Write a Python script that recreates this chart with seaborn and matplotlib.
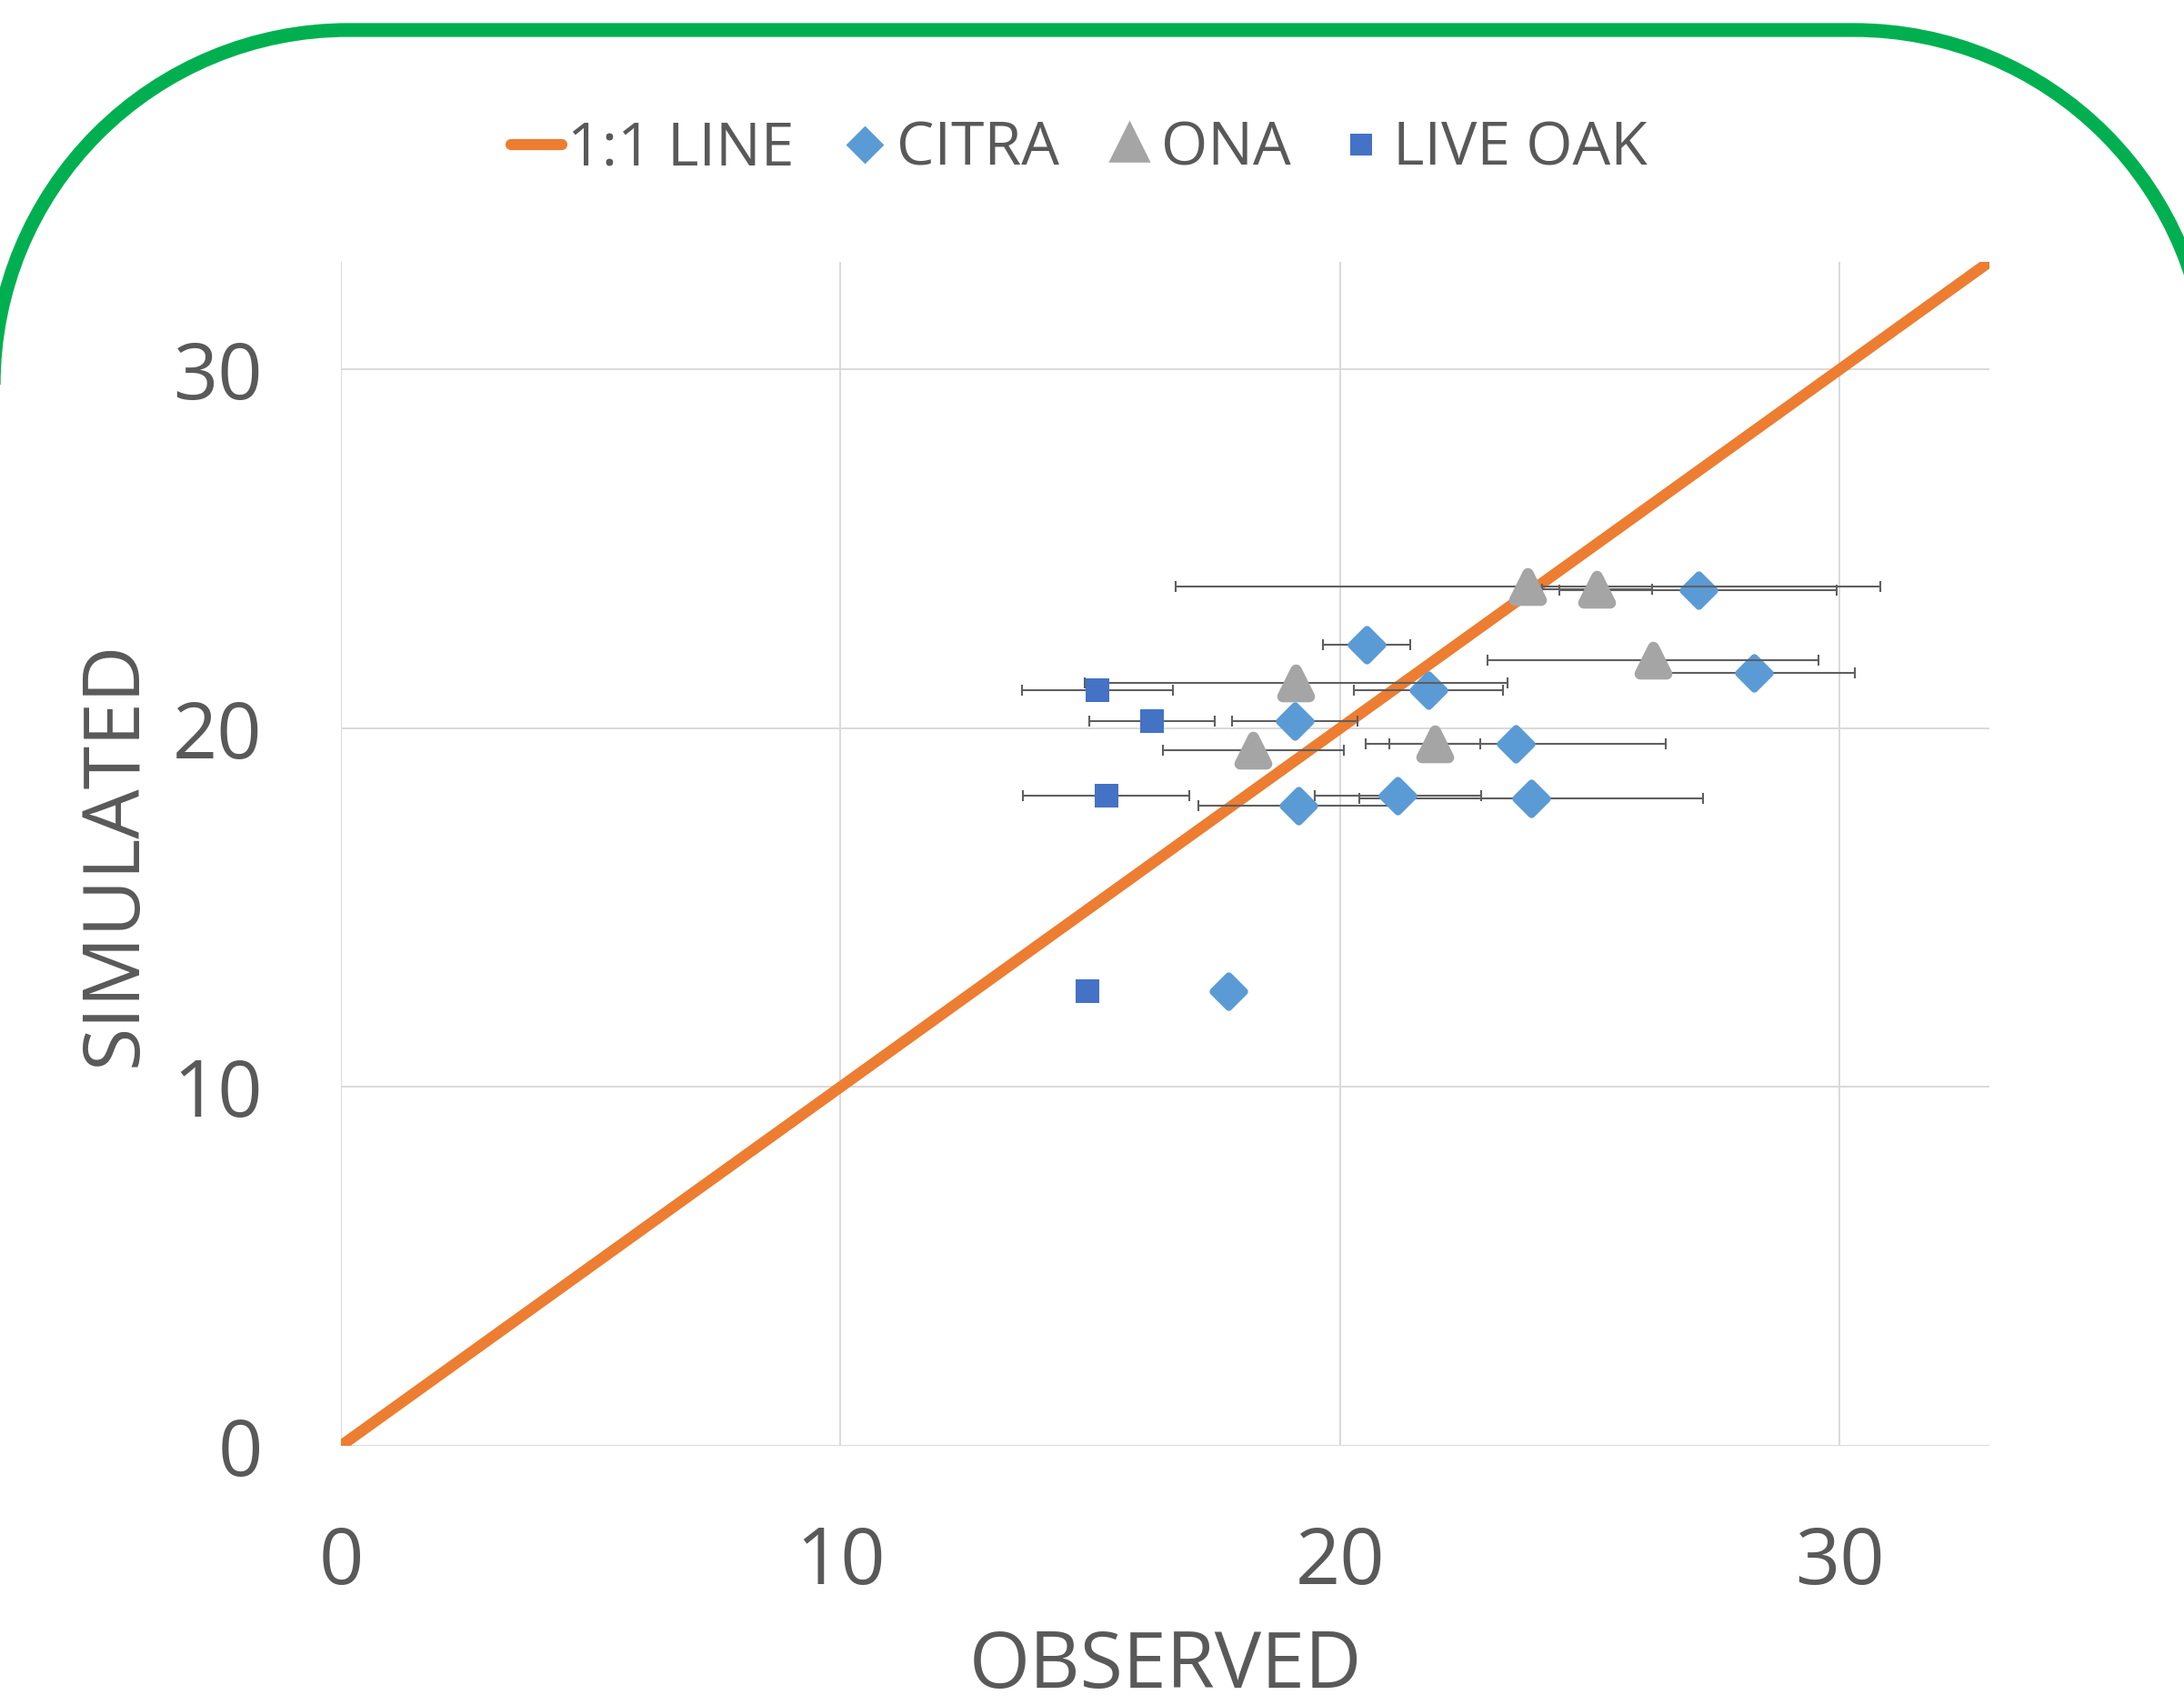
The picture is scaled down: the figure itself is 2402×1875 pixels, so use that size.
import matplotlib
matplotlib.use("Agg")
import matplotlib.pyplot as plt
from matplotlib.lines import Line2D
from matplotlib.path import Path
from matplotlib.patches import PathPatch
from matplotlib.transforms import Affine2D
import numpy as np
import pandas as pd
import seaborn as sns

# 1:1 reference line
line_x = [0, 33]
line_y = [0, 33]

# CITRA: observed, simulated, horizontal error (+/-)
citra_obs = [27.17, 20.53, 28.28, 21.77, 19.09, 23.52, 19.17, 21.16, 23.82, 17.77]
citra_sim = [23.84, 22.32, 21.55, 21.07, 20.19, 19.57, 17.84, 18.11, 18.05, 12.68]
citra_err = [2.77, 0.88, 2.02, 1.49, 1.26, 3.00, 2.00, 1.66, 3.44, 0.0]

# ONA
ona_obs = [23.76, 25.14, 26.27, 19.12, 18.26, 21.89]
ona_sim = [23.95, 23.88, 21.89, 21.26, 19.38, 19.57]
ona_err = [7.05, 1.10, 3.31, 4.23, 1.81, 0.91]

# LIVE OAK
liveoak_obs = [15.15, 16.24, 15.32, 14.95]
liveoak_sim = [21.07, 20.19, 18.11, 12.68]
liveoak_err = [1.51, 1.26, 1.66, 0.0]

ticks = [0, 10, 20, 30]

TEXT = "#595959"
ORANGE = "#ED7D31"
BLUE = "#5B9BD5"
GREY = "#A5A5A5"
DARKBLUE = "#4472C4"

sns.set_theme(style="white")
plt.rcParams["font.family"] = ["Open Sans", "DejaVu Sans"]

fig = plt.figure(figsize=(24.02, 18.75), dpi=100)
ax = fig.add_axes([0.1561, 0.152, 0.7548, 0.6944])

# series: (name, x, y, xerr, marker, colour, size, edge width)
series = [
    ("CITRA", citra_obs, citra_sim, citra_err, "D", BLUE, 300, 6),
    ("ONA", ona_obs, ona_sim, ona_err, "^", GREY, 440, 9),
    ("LIVE OAK", liveoak_obs, liveoak_sim, liveoak_err, "s", DARKBLUE, 350, 0),
]

line_df = pd.DataFrame({"x": line_x, "y": line_y})
sns.lineplot(data=line_df, x="x", y="y", color=ORANGE, linewidth=8.8,
             solid_capstyle="butt", ax=ax, zorder=3)

z = 4
for name, xs, ys, errs, mk, col, size, lw in series:
    df = pd.DataFrame({"obs": xs, "sim": ys, "err": errs})
    bars = df[df["err"] > 0]
    ax.errorbar(bars["obs"], bars["sim"], xerr=bars["err"], fmt="none",
                ecolor="#5f5f5f", elinewidth=1.5, capsize=4.5, capthick=1.5,
                zorder=z)
    sns.scatterplot(data=df, x="obs", y="sim", marker=mk, color=col, s=size,
                    edgecolor=col, linewidth=lw, joinstyle="round", ax=ax,
                    zorder=z + 1)
    z += 2

ax.set_xlim(0, 33)
ax.set_ylim(0, 33)
ax.set_xticks(ticks)
ax.set_yticks(ticks)
ax.grid(True, color="#D9D9D9", linewidth=1.4)
ax.set_axisbelow(True)
for s in ax.spines.values():
    s.set_visible(False)
ax.tick_params(length=0, labelsize=62, labelcolor=TEXT)
ax.tick_params(axis="x", pad=62)
ax.tick_params(axis="y", pad=62)
ax.set_xlabel("OBSERVED", fontsize=62, color=TEXT, labelpad=20)
ax.set_ylabel("SIMULATED", fontsize=62, color=TEXT, labelpad=14)

handles = [
    Line2D([0], [0], color=ORANGE, linewidth=8.8),
    Line2D([0], [0], linestyle="none", marker="D", markersize=16,
           color=BLUE, markeredgewidth=5),
    Line2D([0], [0], linestyle="none", marker="^", markersize=19,
           color=GREY, markeredgewidth=9, markeredgecolor=GREY),
    Line2D([0], [0], linestyle="none", marker="s", markersize=17,
           color=DARKBLUE, markeredgewidth=0),
]
labels = ["1:1 LINE", "CITRA", "ONA", "LIVE OAK"]
leg = fig.legend(handles, labels, loc="center", bbox_to_anchor=(0.494, 0.912),
                 ncol=4, frameon=False, fontsize=47.5, handlelength=0.85,
                 handletextpad=0.1, columnspacing=0.75, labelcolor=TEXT)
for h in leg.legend_handles:
    h.set_solid_joinstyle("round")

# green rounded frame around the chart (pixel units, y up)
W, H = 2402.0, 1875.0
R = 390.0
top = H - 33
right_arc = Path.arc(0, 90)
left_arc = Path.arc(90, 180)
rv = right_arc.vertices * R + [2039, top - R]
lv = left_arc.vertices * R + [383, top - R]
lc = left_arc.codes.copy()
lc[0] = Path.LINETO
frame = Path(np.vstack([rv, lv]), np.concatenate([right_arc.codes, lc]))
fig.add_artist(PathPatch(frame, transform=Affine2D().scale(1 / W, 1 / H) + fig.transFigure,
                         facecolor="none", edgecolor="#00B050", linewidth=11,
                         clip_on=False))

fig.savefig("out.png", dpi=100, facecolor="white")
